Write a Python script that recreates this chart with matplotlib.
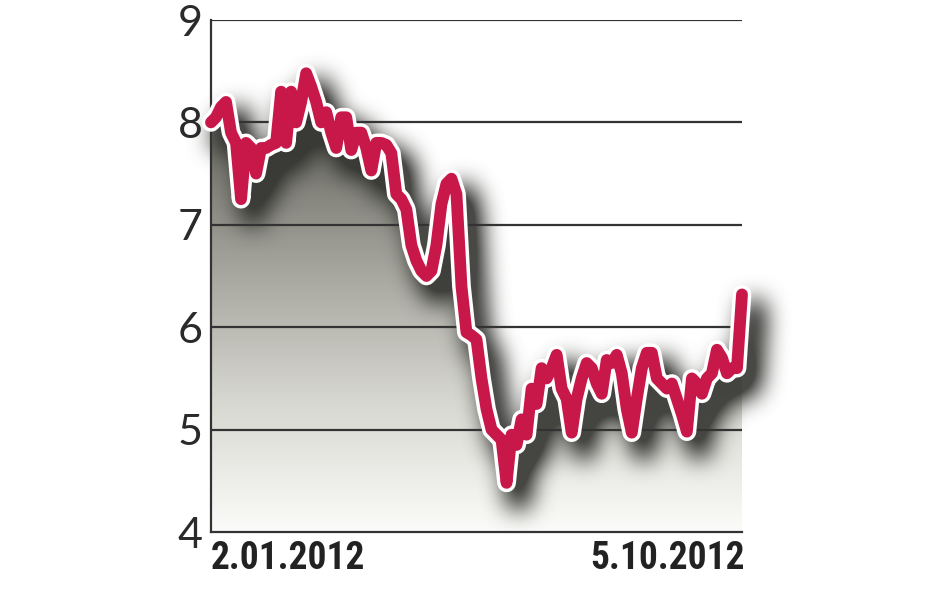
import numpy as np
import pandas as pd
import matplotlib
matplotlib.use("Agg")
import matplotlib.pyplot as plt
import matplotlib.dates as mdates
import matplotlib.patheffects as pe
from matplotlib import font_manager
from matplotlib.colors import LinearSegmentedColormap
from matplotlib.transforms import offset_copy

# values, evenly spaced from 2.01.2012 to 5.10.2012
values = [8.0, 8.05, 8.15, 8.2, 7.9, 7.8, 7.25, 7.8, 7.75, 7.5,
          7.75, 7.75, 7.78, 7.8, 8.3, 7.8, 8.3, 8.0, 8.2, 8.48,
          8.35, 8.2, 8.0, 8.1, 7.9, 7.75, 8.05, 8.05, 7.73, 7.9,
          7.9, 7.75, 7.53, 7.8, 7.8, 7.78, 7.7, 7.3, 7.25, 7.15,
          6.8, 6.65, 6.55, 6.5, 6.55, 6.8, 7.2, 7.4, 7.45, 7.3,
          6.4, 5.95, 5.92, 5.88, 5.5, 5.2, 5.0, 4.95, 4.9, 4.48,
          4.95, 4.85, 5.1, 4.95, 5.4, 5.25, 5.6, 5.5, 5.6, 5.73,
          5.4, 5.3, 4.97, 5.3, 5.5, 5.65, 5.6, 5.45, 5.35, 5.68,
          5.65, 5.73, 5.55, 5.2, 4.97, 5.3, 5.6, 5.75, 5.75, 5.5,
          5.45, 5.4, 5.45, 5.3, 5.15, 4.98, 5.5, 5.45, 5.35, 5.5,
          5.55, 5.78, 5.7, 5.55, 5.6, 5.6, 6.32]
start_label = "2.01.2012"
end_label = "5.10.2012"
yticks = [4, 5, 6, 7, 8, 9]

dates = pd.date_range("2012-01-02", "2012-10-05", periods=len(values))
x = mdates.date2num(dates)
y = np.array(values)

W, H = 948, 593
pos = [211 / W, 1 - 532 / H, (742 - 211) / W, (532 - 20) / H]

names = {f.name for f in font_manager.fontManager.ttflist}
narrow = next((n for n in ["Roboto Condensed", "Liberation Sans Narrow",
                           "Open Sans Condensed", "DejaVu Sans"] if n in names), "DejaVu Sans")


def blur(a, r, passes=3):
    # repeated box blur along rows then columns
    for _ in range(passes):
        p = np.pad(a, [(r + 1, r), (0, 0)], mode="edge")
        c = np.cumsum(p, axis=0)
        a = (c[2 * r + 1:] - c[:-2 * r - 1]) / (2 * r + 1)
        p = np.pad(a, [(0, 0), (r + 1, r)], mode="edge")
        c = np.cumsum(p, axis=1)
        a = (c[:, 2 * r + 1:] - c[:, :-2 * r - 1]) / (2 * r + 1)
    return a


# draw the line offscreen as a mask for the drop shadow
fig2 = plt.figure(figsize=(W / 100, H / 100), dpi=100)
ax2 = fig2.add_axes(pos)
ax2.set_xlim(x[0], x[-1])
ax2.set_ylim(4, 9)
ax2.axis("off")
tr2 = offset_copy(ax2.transData, fig=fig2, x=12, y=-16, units="dots")
ax2.plot(x, y, color="black", lw=16, transform=tr2, solid_joinstyle="round",
         solid_capstyle="round", clip_on=False)
fig2.canvas.draw()
buf = np.array(fig2.canvas.buffer_rgba(), dtype=float)
plt.close(fig2)
mask = 1 - buf[..., 0] / 255.0
mask = blur(mask, 11)
shadow = np.zeros((H, W, 4))
shadow[..., 0] = 0.2
shadow[..., 1] = 0.2
shadow[..., 2] = 0.19
shadow[..., 3] = np.clip(mask * 1.35, 0, 0.9)

fig = plt.figure(figsize=(W / 100, H / 100), dpi=100)
ax = fig.add_axes(pos)
ax.set_xlim(x[0], x[-1])
ax.set_ylim(4, 9)

# gradient fill under the line
cmap = LinearSegmentedColormap.from_list("g", ["#fbfbf9", "#d8d8d2", "#a8a8a0", "#72726b", "#52524c"])
grad = np.linspace(0, 1, 256).reshape(-1, 1)
poly = ax.fill_between(x, 4, y, color="none", lw=0)
img = ax.imshow(grad, extent=[x[0], x[-1], 4, 9], origin="lower", aspect="auto",
                cmap=cmap, zorder=1)
img.set_clip_path(poly.get_paths()[0], transform=ax.transData)

# blurred shadow laid over the whole figure area
inv = ax.transData.inverted()
(fx0, fy0), (fx1, fy1) = inv.transform([(0, 0), (W, H)])
sh = ax.imshow(shadow, extent=[fx0, fx1, fy0, fy1], origin="upper", aspect="auto",
               zorder=1.5, interpolation="nearest")
sh.set_clip_on(False)
ax.set_xlim(x[0], x[-1])
ax.set_ylim(4, 9)

# grid
for t in yticks[1:]:
    ax.axhline(t, color="#333333", lw=1.6, zorder=2)

line, = ax.plot(x, y, color="#c8184a", lw=8.5, solid_joinstyle="round",
                solid_capstyle="round", zorder=3, clip_on=False)
line.set_path_effects([pe.Stroke(linewidth=13.5, foreground="white"), pe.Normal()])

for s in ["top", "right"]:
    ax.spines[s].set_visible(False)
for s in ["left", "bottom"]:
    ax.spines[s].set_color("#333333")
    ax.spines[s].set_linewidth(1.6)
    ax.spines[s].set_zorder(2.5)

ax.set_xticks([])
ax.set_yticks(yticks)
ax.set_yticklabels([str(t) for t in yticks], fontsize=31, color="#2a2a2a",
                   family=["Lato", "DejaVu Sans"])
ax.tick_params(axis="y", length=0, pad=6)

ax.text(0.0, -0.015, start_label, transform=ax.transAxes, ha="left", va="top",
        fontsize=27, fontweight="bold", fontstretch="condensed", color="#222222",
        family=[narrow, "DejaVu Sans"])
ax.text(1.005, -0.015, end_label, transform=ax.transAxes, ha="right", va="top",
        fontsize=27, fontweight="bold", fontstretch="condensed", color="#222222",
        family=[narrow, "DejaVu Sans"])

fig.savefig("out.png", dpi=100, facecolor="white")
